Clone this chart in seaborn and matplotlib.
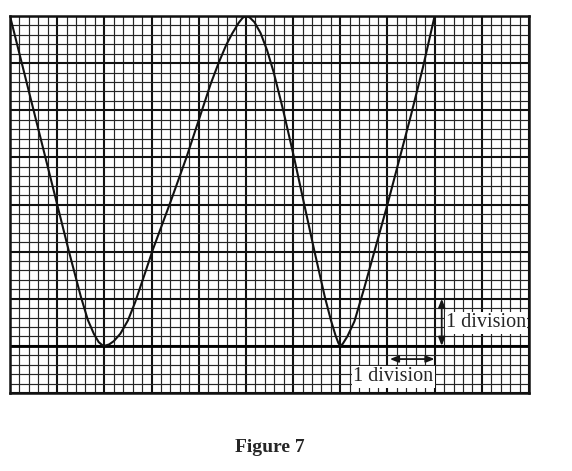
import numpy as np
import matplotlib
matplotlib.use("Agg")
import matplotlib.pyplot as plt
import seaborn as sns

# Trace of the waveform (x and y in divisions)
curve_x = [0.0, 0.25, 0.5, 0.75, 1.0, 1.25, 1.5, 1.65, 1.78, 1.88, 1.95, 2.0,
           2.1, 2.2, 2.34, 2.5, 2.65, 2.83, 3.03, 3.4, 3.74, 4.02, 4.25, 4.42,
           4.58, 4.71, 4.85, 4.93, 5.0, 5.08, 5.18, 5.31, 5.45, 5.59, 5.79, 6.02,
           6.23, 6.45, 6.67, 6.8, 6.9, 6.96, 7.0, 7.05, 7.15, 7.3, 7.5, 7.75,
           8.0, 8.25, 8.5, 8.75, 9.0]
curve_y = [8.0, 7.0, 6.0, 5.0, 4.0, 3.0, 2.05, 1.55, 1.25, 1.08, 1.02, 1.0,
           1.03, 1.1, 1.26, 1.54, 1.92, 2.45, 3.05, 4.05, 5.0, 5.85, 6.55, 7.0,
           7.38, 7.63, 7.86, 7.96, 8.0, 7.97, 7.87, 7.64, 7.27, 6.8, 6.0, 5.0,
           4.03, 3.02, 2.05, 1.55, 1.22, 1.06, 1.0, 1.04, 1.2, 1.52, 2.2, 3.1,
           4.0, 4.95, 5.9, 6.9, 8.0]

n_div_x = 11
n_div_y = 8
sub_div = 5

label_scale = "1 division"
caption = "Figure 7"

sns.set_style("white")
plt.rcParams['font.family'] = ['Liberation Serif', 'DejaVu Serif']

fig = plt.figure(figsize=(5.72, 4.71), dpi=100)
ax = fig.add_axes([10 / 572, 1 - 393 / 471, 519 / 572, 377 / 471])

sns.lineplot(x=curve_x, y=curve_y, sort=False, estimator=None, ax=ax,
             color="#111111", linewidth=1.5, zorder=5)

ax.set_xlim(0, n_div_x)
ax.set_ylim(0, n_div_y)

# graticule: major lines every division, minor lines every fifth of one
ax.set_xticks(np.arange(0, n_div_x + 1))
ax.set_yticks(np.arange(0, n_div_y + 1))
ax.set_xticks(np.arange(0, n_div_x + 0.001, 1 / sub_div), minor=True)
ax.set_yticks(np.arange(0, n_div_y + 0.001, 1 / sub_div), minor=True)
ax.grid(which="major", color="#111111", linewidth=1.5, zorder=1)
ax.grid(which="minor", color="#262626", linewidth=0.85, zorder=1)
ax.axhline(1, color="#000000", linewidth=2.0, zorder=2)
ax.tick_params(which="both", length=0, labelbottom=False, labelleft=False)
for sp in ax.spines.values():
    sp.set_color("#111111")
    sp.set_linewidth(1.8)
ax.set_axisbelow(True)

# scale markers
arrow = dict(arrowstyle="<|-|>,head_length=0.5,head_width=0.2",
             color="#151515", lw=1.3, shrinkA=0, shrinkB=0)
ax.annotate("", xy=(9.15, 1.0), xytext=(9.15, 2.0), arrowprops=arrow, zorder=6)
ax.annotate("", xy=(8.05, 0.72), xytext=(9.0, 0.72), arrowprops=arrow, zorder=6)

box = dict(facecolor="white", edgecolor="none", pad=1.0)
ax.text(9.24, 1.49, label_scale, ha="left", va="center", fontsize=14.5,
        bbox=box, zorder=6)
ax.text(8.97, 0.34, label_scale, ha="right", va="center", fontsize=14.5,
        bbox=box, zorder=6)

fig.text(270 / 572, 1 - 447 / 471, caption, ha="center", va="center",
         fontsize=14, fontweight="bold")

fig.savefig("out.png", dpi=100, facecolor="white")
